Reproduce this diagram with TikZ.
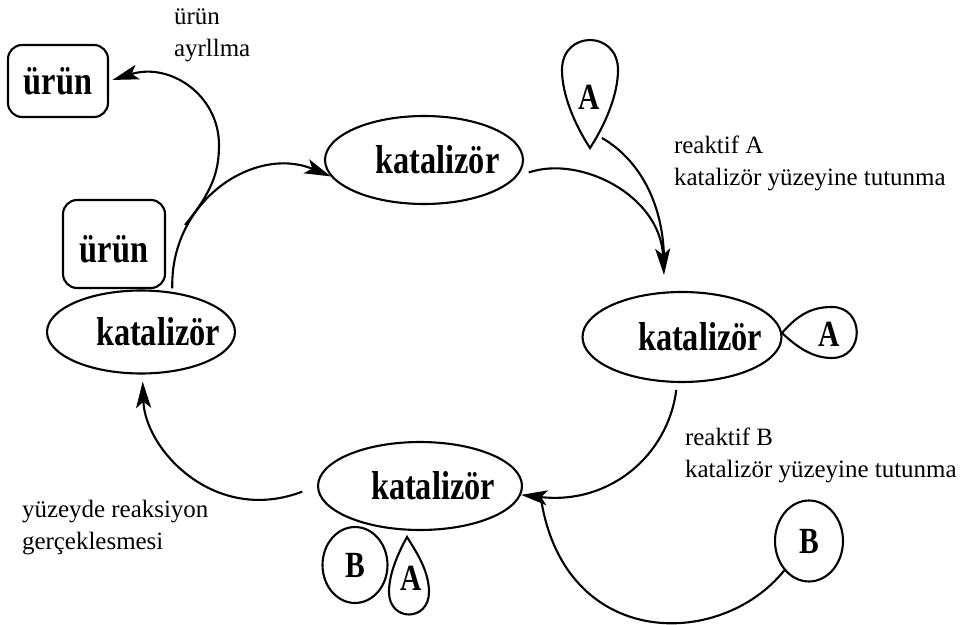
\documentclass[tikz,border=0pt]{standalone}
\usepackage{fontspec}
\setmainfont{Liberation Serif}
\newfontfamily\condserif[FakeStretch=0.8]{Liberation Serif}
\usetikzlibrary{shapes.geometric, arrows.meta, calc}

\begin{document}
\begin{tikzpicture}[x=0.02cm, y=-0.02cm, line width=1.2pt,
	kat/.style={draw, ellipse, inner sep=0pt},
	kattext/.style={inner sep=0pt, font=\condserif\bfseries\fontsize{23}{26}\selectfont},
	urun/.style={draw, rounded corners=8pt, inner sep=0pt, font=\condserif\bfseries\fontsize{23}{26}\selectfont},
	tear/.style={inner sep=0pt, font=\condserif\bfseries\fontsize{21}{24}\selectfont},
	ball/.style={draw, ellipse, inner sep=0pt, font=\condserif\bfseries\fontsize{21}{24}\selectfont},
	note/.style={anchor=west, align=left, inner sep=0pt, font=\fontsize{14.2}{18.2}\selectfont},
	flow/.style={-{Stealth[length=15pt,width=8.5pt,inset=3.5pt]}}]
	\useasboundingbox (0,0) rectangle (965,625);
	\node[kat, minimum width=3.96cm, minimum height=1.76cm] (k1) at (424,160) {};
	\node[kattext] (k1t) at ([xshift=0.27cm]k1.center) {katalizör};
	\node[kat, minimum width=3.76cm, minimum height=1.66cm] (k2) at (141,332) {};
	\node[kattext] (k2t) at ([xshift=0.34cm]k2.center) {katalizör};
	\node[kat, minimum width=3.98cm, minimum height=1.8cm] (k3) at (682,337) {};
	\node[kattext] (k3t) at ([xshift=0.36cm]k3.center) {katalizör};
	\node[kat, minimum width=4.08cm, minimum height=1.76cm] (k4) at (420,486) {};
	\node[kattext] (k4t) at ([xshift=0.26cm]k4.center) {katalizör};
	\node[urun, minimum width=2cm, minimum height=1.44cm] (u1) at (58,81) {ürün};
	\node[urun, minimum width=2.04cm, minimum height=1.76cm] (u2) at (114,244) {};
	\node[kattext] (u2t) at ([yshift=-0.1cm]u2.center) {ürün};
	\node[ball, minimum width=1.3cm, minimum height=1.52cm] (b1) at (355,565) {B};
	\node[ball, minimum width=1.36cm, minimum height=1.62cm] (b2) at (809,541) {B};
	\draw (590,148) .. controls (575,125) and (562,95) .. (562,70) .. controls (562,30) and (618,30) .. (618,70) .. controls (618,95) and (605,125) .. cycle;
	\node[tear] (a1) at (589,97) {A};
	\draw (782,333) .. controls (800,312) and (815,307) .. (832,307) .. controls (865,307) and (865,358) .. (832,358) .. controls (815,358) and (800,350) .. cycle;
	\node[tear] (a2) at (829,334) {A};
	\draw (407,537) .. controls (397,555) and (389,575) .. (389,592) .. controls (389,622) and (429,622) .. (429,592) .. controls (429,570) and (415,550) .. cycle;
	\node[tear] (a3) at (411,578) {A};
	\node[note] (l1) at (173,35) {ürün\\ayrllma};
	\node[note] (l2) at (673,163) {reaktif A\\katalizör yüzeyine tutunma};
	\node[note] (l3) at (684,455) {reaktif B\\katalizör yüzeyine tutunma};
	\node[note] (l4) at (21,528) {yüzeyde reaksiyon\\gerçeklesmesi};
	\coordinate (a1tip) at (602,138);
	\coordinate (sep) at (185,225);
	\coordinate (k3in) at (664,275);
	\coordinate (k4in) at (541,499);
	\draw[flow, shorten <=2pt] (k2.52) .. controls (170,200) and (255,145) .. (k1.190);
	\draw[flow, shorten >=2pt] (sep) .. controls (212,192) and (219,172) .. (219,145) .. controls (219,95) and (170,62) .. (u1.east);
	\draw[flow, shorten <=7pt] (k1.-10) .. controls (580,155) and (660,195) .. (k3in);
	\draw[shorten >=8pt] (a1tip) .. controls (640,160) and (664,205) .. (k3in);
	\draw[flow, shorten <=4pt] (k3.-96) .. controls (668,455) and (610,505) .. (k4.-5);
	\draw (b2.-130) .. controls (720,650) and (565,650) .. (k4in);
	\draw[flow, shorten <=9pt, shorten >=4pt] (k4.west) .. controls (215,525) and (145,450) .. (k2.-88);
\end{tikzpicture}
\end{document}
